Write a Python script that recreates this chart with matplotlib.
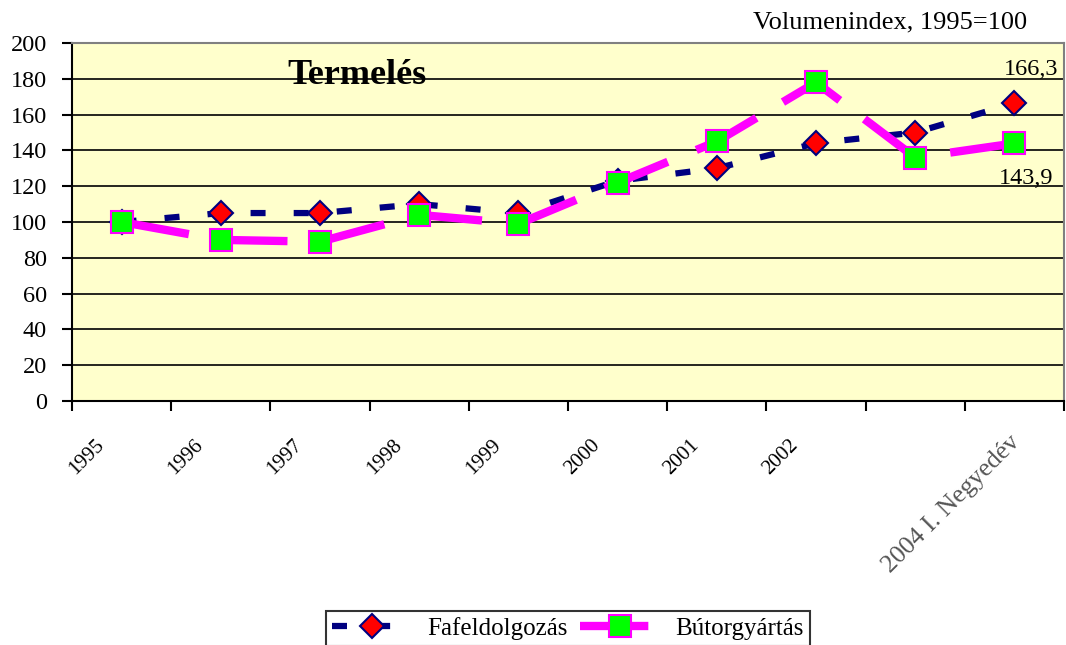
import matplotlib
matplotlib.use("Agg")
import matplotlib.pyplot as plt
import matplotlib.transforms as mtransforms

# data (Volumenindex, 1995=100)
categories = ['1995', '1996', '1997', '1998', '1999', '2000', '2001', '2002', '', '2004 I. Negyedév']
fafeldolgozas = [100, 105, 105, 110, 105, 123, 130, 144, 150, 166.3]
butorgyartas = [100, 90, 89, 104, 99, 122, 145, 178, 136, 143.9]
yticks = list(range(0, 201, 20))

plt.rcParams['font.family'] = ['Liberation Serif', 'DejaVu Serif']

fig = plt.figure(figsize=(10.66, 6.45), dpi=100)
ax = fig.add_axes([72 / 1066, 1 - 401 / 645, (1064 - 72) / 1066, (401 - 43) / 645])
ax.set_facecolor('#FFFFCC')

x = [i + 0.5 for i in range(len(categories))]

l1, = ax.plot(x, fafeldolgozas, color='#000080', lw=4.5, marker='D', markersize=12.5,
              markerfacecolor='#FF0000', markeredgecolor='#000080', markeredgewidth=1.5,
              zorder=3, label='Fafeldolgozás')
l1.set_dashes([2.4, 4.5])
l2, = ax.plot(x, butorgyartas, color='#FF00FF', lw=6, marker='s', markersize=16.5,
              markerfacecolor='#00FF00', markeredgecolor='#FF00FF', markeredgewidth=1.5,
              zorder=4, label='Bútorgyártás')
l2.set_dashes([8.2, 3.7])

ax.set_xlim(0, len(categories))
ax.set_ylim(0, 200)
ax.set_yticks(yticks)
ax.tick_params(axis='y', direction='out', length=7, width=1.5, labelsize=17.5, pad=11)
ax.yaxis.grid(True, color='black', lw=1.2)
ax.set_axisbelow(True)

ax.set_xticks(range(len(categories) + 1))
ax.set_xticklabels([])
ax.set_xticks(x, minor=True)
ax.set_xticklabels(categories, minor=True, rotation=45, ha='right', va='top',
                   rotation_mode='anchor', fontsize=15)
ax.tick_params(axis='x', which='major', direction='out', length=7, width=1.5)
ax.tick_params(axis='x', which='minor', length=0, pad=25)
labels = ax.get_xticklabels(minor=True)
for lab in labels[:-1]:
    lab.set_transform(lab.get_transform() +
                      mtransforms.ScaledTranslation(-0.27, 0, fig.dpi_scale_trans))
labels[-1].set_transform(labels[-1].get_transform() +
                         mtransforms.ScaledTranslation(-0.06, 0.05, fig.dpi_scale_trans))
labels[-1].set_color('#555555')
labels[-1].set_fontsize(18.5)

for s in ['left', 'bottom']:
    ax.spines[s].set_linewidth(1.5)
    ax.spines[s].set_color('black')
for s in ['top', 'right']:
    ax.spines[s].set_linewidth(1.5)
    ax.spines[s].set_color('#808080')

ax.text(2.87, 177.3, 'Termelés', fontsize=26, fontweight='bold', ha='center',
        va='baseline', zorder=0.3)

ax.annotate('166,3', (x[-1], fafeldolgozas[-1]), xytext=(17, 34), textcoords='offset pixels',
            ha='center', va='center', fontsize=17.5)
ax.annotate('143,9', (x[-1], butorgyartas[-1]), xytext=(12, -35), textcoords='offset pixels',
            ha='center', va='center', fontsize=17.5)

fig.text(1027 / 1066, 1 - 22 / 645, 'Volumenindex, 1995=100', ha='right', va='center',
         fontsize=19)

leg = fig.legend(handles=[l1, l2], loc='upper center', ncol=2,
                 bbox_to_anchor=(568 / 1066, 1 - 611 / 645), fontsize=18,
                 frameon=True, fancybox=False, edgecolor='black', handlelength=3.2,
                 columnspacing=0.5, borderpad=0.25, handletextpad=0.6, borderaxespad=0)
leg.get_frame().set_linewidth(1.5)

fig.savefig('out.png', dpi=100)
